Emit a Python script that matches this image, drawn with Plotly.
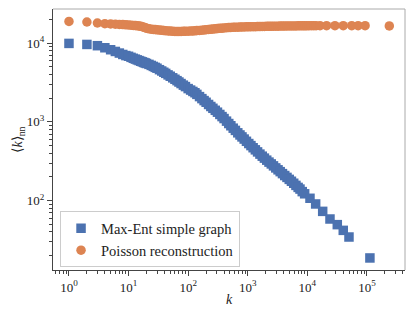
import plotly.graph_objects as go

# Max-Ent simple graph: degree k vs average nearest-neighbour degree <k>_nn
k_maxent = [1, 2, 3, 4, 5, 6, 7, 8, 9, 10, 11, 12, 13, 14, 15, 16, 17, 18, 19, 20,
            22, 24, 26, 28, 30, 33, 36, 39, 42, 46, 50, 55, 60, 65, 70, 76, 83, 90,
            100, 110, 120, 130, 140, 155, 170, 185, 200, 220, 240, 260, 285, 310, 340,
            370, 400, 440, 480, 520, 570, 620, 680, 740, 800, 870, 950, 1040, 1130,
            1230, 1340, 1460, 1600, 1750, 1900, 2080, 2270, 2480, 2700, 2950, 3220,
            3500, 3820, 4170, 4550, 4960, 5400, 5900, 6430, 7000, 7520, 8200, 9000,
            11060, 13770, 18070, 23950, 31770, 40000, 49900, 112000]
knn_maxent = [9890, 9600, 9250, 8710, 8220, 7820, 7460, 7160, 6930, 6790, 6580, 6400,
              6250, 6110, 5990, 5870, 5770, 5670, 5580, 5500,
              5360, 5200, 5050, 4910, 4790, 4590, 4420, 4260, 4120, 3940, 3790, 3620,
              3470, 3330, 3200, 3060, 2920, 2800,
              2640, 2530, 2430, 2340, 2230, 2090, 1970, 1860, 1770, 1660, 1565, 1485,
              1400, 1325, 1240, 1165, 1100, 1020, 951, 891, 830, 778, 725, 681, 643,
              604, 566, 530, 499, 469, 441, 415, 389, 366, 346, 326, 308, 292, 276,
              260, 246, 233, 220, 208, 197, 186, 176, 166, 156, 147, 140, 130, 122,
              107, 90.6, 73, 58.4, 49.5, 41.9, 34.5, 18.7]

# Poisson reconstruction
k_poisson = [1, 2, 3, 4, 5, 6, 7, 8, 9, 10, 11, 12, 13, 14, 15, 16, 17, 18, 19, 20,
             22, 24, 26, 28, 30, 33, 36, 39, 42, 46, 50, 55, 60, 65, 70, 76, 83, 90,
             100, 110, 120, 130, 140, 155, 170, 185, 200, 220, 240, 260, 285, 310, 340,
             370, 400, 440, 480, 520, 570, 620, 680, 740, 800, 870, 950, 1040, 1130,
             1230, 1340, 1460, 1600, 1750, 1900, 2080, 2270, 2480, 2700, 2950, 3220,
             3500, 3820, 4170, 4550, 4960, 5400, 5900, 6430, 7000, 7600, 8300, 9000,
             9800, 10700, 11700, 12800, 14000,
             16300, 21000, 29000, 40000, 55500, 71000, 93000, 237000]
knn_poisson = [18800, 18500, 17960, 17600, 17450, 17350, 17250, 17150, 17050, 16950,
               16850, 16750, 16650, 16550, 16450, 16300, 16100, 15900, 15650, 15400,
               15150, 15000, 14900, 14800, 14700, 14600, 14500, 14400, 14350, 14250,
               14200, 14100, 14050, 14040, 14040, 14050, 14080, 14100,
               14150, 14200, 14250, 14300, 14380, 14450, 14550, 14650, 14750, 14850,
               14950, 15050, 15150, 15250, 15350, 15450, 15550, 15630, 15700, 15780,
               15820, 15870, 15900, 15950, 15980, 16000, 16050, 16080, 16100, 16130,
               16150, 16180, 16200, 16230, 16250, 16280, 16300, 16320, 16340, 16360,
               16380, 16400, 16420, 16440, 16450, 16470, 16480, 16500, 16510, 16520,
               16530, 16540, 16550, 16560, 16570, 16580, 16590, 16600,
               16600, 16600, 16600, 16600, 16600, 16600, 16600, 16500]

x_tickvals = [1, 10, 100, 1000, 10000, 100000]
x_ticktext = ["10<sup>0</sup>", "10<sup>1</sup>", "10<sup>2</sup>", "10<sup>3</sup>",
              "10<sup>4</sup>", "10<sup>5</sup>"]
y_tickvals = [100, 1000, 10000]
y_ticktext = ["10<sup>2</sup>", "10<sup>3</sup>", "10<sup>4</sup>"]

BLUE = "#4C72B0"
ORANGE = "#DD8452"
FONT = "Liberation Serif"

fig = go.Figure()
fig.add_trace(go.Scatter(
    x=k_maxent, y=knn_maxent, mode="markers", name="Max-Ent simple graph",
    marker=dict(symbol="square", size=9.5, color=BLUE, line=dict(width=0)),
))
fig.add_trace(go.Scatter(
    x=k_poisson, y=knn_poisson, mode="markers", name="Poisson reconstruction",
    marker=dict(symbol="circle", size=9.5, color=ORANGE, line=dict(width=0)),
))

axis_common = dict(
    type="log", showgrid=False, zeroline=False, showline=True,
    linecolor="#444", linewidth=1, ticks="outside", ticklen=5, tickwidth=1,
    tickcolor="#444", tickfont=dict(family=FONT, size=13, color="#222"),
    minor=dict(ticks="outside", ticklen=3, tickwidth=1, tickcolor="#444",
               dtick="D1", showgrid=False),
)

fig.update_xaxes(
    range=[-0.268, 5.638], tickmode="array", tickvals=x_tickvals, ticktext=x_ticktext,
    title=dict(text="<i>k</i>", font=dict(family=FONT, size=14, color="#222"), standoff=0),
    **axis_common,
)
fig.update_yaxes(
    range=[1.119, 4.432], tickmode="array", tickvals=y_tickvals, ticktext=y_ticktext,
    title=dict(text="⟨<i>k</i>⟩<sub>nn</sub>", font=dict(family=FONT, size=14, color="#222"),
               standoff=0),
    **axis_common,
)

# light top/right frame
fig.add_shape(type="line", xref="paper", yref="paper", x0=0, x1=1, y0=1, y1=1,
              line=dict(color="#aaa", width=1))
fig.add_shape(type="line", xref="paper", yref="paper", x0=1, x1=1, y0=0, y1=1,
              line=dict(color="#aaa", width=1))

# the page body adds an 8px margin, so the figure is 8px smaller than the window
fig.update_layout(
    width=407, height=306,
    margin=dict(l=45, r=10, t=1, b=44),
    paper_bgcolor="white", plot_bgcolor="white",
    font=dict(family=FONT, size=13, color="#222"),
    showlegend=True,
    legend=dict(
        x=0.02, y=0.01, xanchor="left", yanchor="bottom",
        bgcolor="white", bordercolor="#ccc", borderwidth=1,
        font=dict(family=FONT, size=14.5, color="#222"),
        itemwidth=30, tracegroupgap=0,
    ),
)

fig.write_html("out.html")
